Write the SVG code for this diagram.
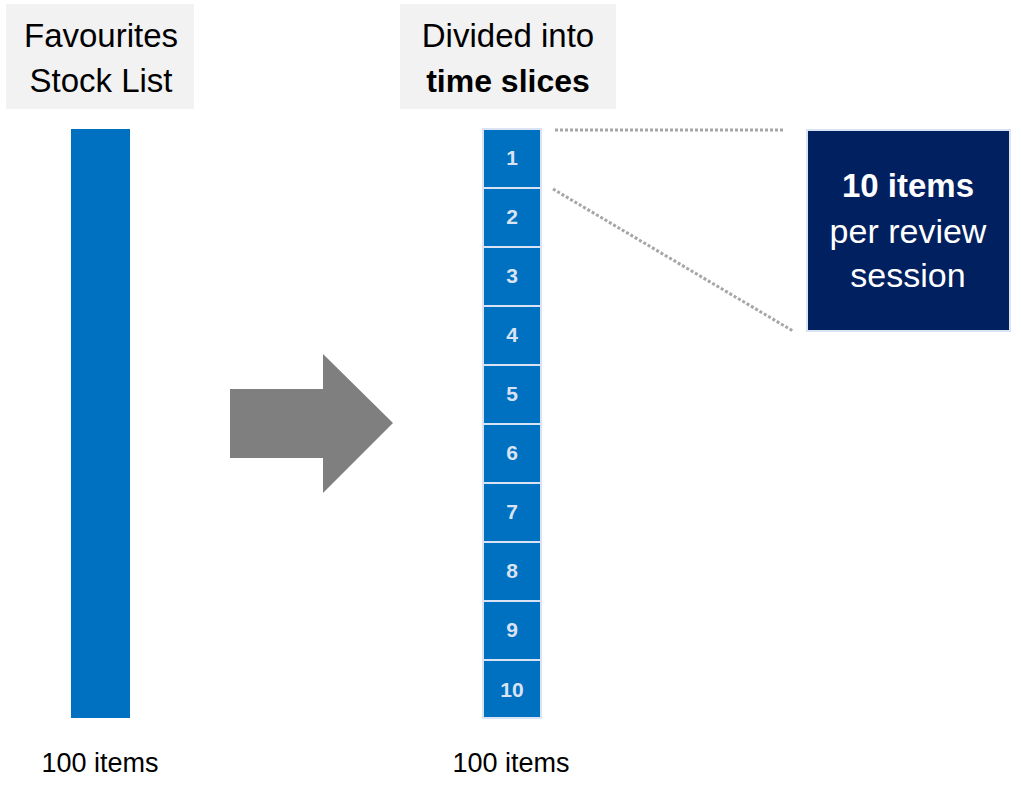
<svg xmlns="http://www.w3.org/2000/svg" width="1021" height="798" viewBox="0 0 1021 798">
<style>
.hdr{fill:#f2f2f2}
.ht{font-family:"Liberation Sans",Arial,sans-serif;font-size:33px;fill:#000;text-anchor:middle}
.htb{font-family:"Liberation Sans",Arial,sans-serif;font-size:32px;font-weight:bold;fill:#000;text-anchor:middle}
.slice{fill:#0070c0;stroke:#dae3f3;stroke-width:2}
.num{font-family:"Liberation Sans",Arial,sans-serif;font-size:21px;font-weight:bold;fill:#dae3f3;text-anchor:middle}
.cap{font-family:"Liberation Sans",Arial,sans-serif;font-size:27px;fill:#000;text-anchor:middle}
.bt{font-family:"Liberation Sans",Arial,sans-serif;font-size:34px;fill:#fff;text-anchor:middle}
.btb{font-family:"Liberation Sans",Arial,sans-serif;font-size:33px;font-weight:bold;fill:#fff;text-anchor:middle}
.dot{stroke:#a6a6a6;stroke-width:3;stroke-dasharray:3 2;fill:none}
</style>
<rect width="1021" height="798" fill="#fff"/>
<g id="header-favourites">
<rect class="hdr" x="6" y="4" width="188" height="105"/>
<text class="ht" x="101" y="47">Favourites</text>
<text class="ht" x="101" y="92">Stock List</text>
</g>
<g id="header-divided">
<rect class="hdr" x="400" y="4" width="216" height="105"/>
<text class="ht" x="508" y="47">Divided into</text>
<text class="htb" x="508" y="92">time slices</text>
</g>
<g id="stock-list-bar">
<rect x="71" y="129" width="59" height="589" fill="#0070c0"/>
</g>
<g id="arrow">
<polygon points="230,389 323,389 323,354 393,423 323,493 323,458 230,458" fill="#7f7f7f"/>
</g>
<g id="slices">
<g id="slice-1"><rect class="slice" x="483" y="129" width="58" height="59"/><text class="num" x="512" y="165">1</text></g>
<g id="slice-2"><rect class="slice" x="483" y="188" width="58" height="59"/><text class="num" x="512" y="224">2</text></g>
<g id="slice-3"><rect class="slice" x="483" y="247" width="58" height="59"/><text class="num" x="512" y="283">3</text></g>
<g id="slice-4"><rect class="slice" x="483" y="306" width="58" height="59"/><text class="num" x="512" y="342">4</text></g>
<g id="slice-5"><rect class="slice" x="483" y="365" width="58" height="59"/><text class="num" x="512" y="401">5</text></g>
<g id="slice-6"><rect class="slice" x="483" y="424" width="58" height="59"/><text class="num" x="512" y="460">6</text></g>
<g id="slice-7"><rect class="slice" x="483" y="483" width="58" height="59"/><text class="num" x="512" y="519">7</text></g>
<g id="slice-8"><rect class="slice" x="483" y="542" width="58" height="59"/><text class="num" x="512" y="578">8</text></g>
<g id="slice-9"><rect class="slice" x="483" y="601" width="58" height="59"/><text class="num" x="512" y="637">9</text></g>
<g id="slice-10"><rect class="slice" x="483" y="660" width="58" height="58"/><text class="num" x="512" y="697">10</text></g>
</g>
<g id="connectors">
<line class="dot" x1="555" y1="130" x2="785" y2="130"/>
<line class="dot" x1="553" y1="189" x2="793" y2="331"/>
</g>
<g id="session-box">
<rect x="807" y="130" width="203" height="201" fill="#002060" stroke="#dae3f3" stroke-width="2"/>
<text class="btb" x="908" y="197">10 items</text>
<text class="bt" x="908" y="243">per review</text>
<text class="bt" x="908" y="287">session</text>
</g>
<g id="caption-left"><text class="cap" x="100" y="772">100 items</text></g>
<g id="caption-right"><text class="cap" x="511" y="772">100 items</text></g>
</svg>
